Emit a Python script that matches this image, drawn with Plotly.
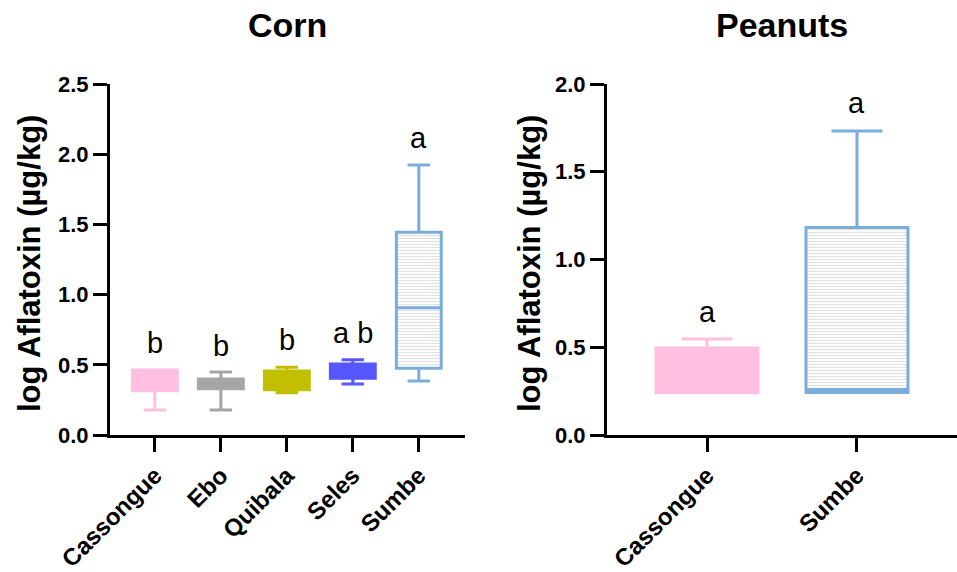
import plotly.graph_objects as go

# ---------------- data ----------------
corn_sites = ["Cassongue", "Ebo", "Quibala", "Seles", "Sumbe"]
corn_low = [0.178, 0.178, 0.301, 0.363, 0.385]
corn_q1 = [0.315, 0.330, 0.323, 0.404, 0.475]
corn_med = [0.390, 0.365, 0.390, 0.455, 0.907]
corn_q3 = [0.463, 0.399, 0.456, 0.506, 1.444]
corn_high = [0.463, 0.449, 0.482, 0.536, 1.923]
corn_colors = ["#ffbfe0", "#a6a6a6", "#c2bf00", "#5656ff", "#7aaddb"]
corn_letters = ["b", "b", "b", "a b", "a"]
corn_letter_y = [0.584, 0.563, 0.605, 0.655, 2.044]

pea_sites = ["Cassongue", "Sumbe"]
pea_low = [0.241, 0.242]
pea_q1 = [0.241, 0.242]
pea_med = [0.370, 0.259]
pea_q3 = [0.496, 1.183]
pea_high = [0.547, 1.732]
pea_colors = ["#ffbfe0", "#7aaddb"]
pea_letters = ["a", "a"]
pea_letter_y = [0.644, 1.835]

hatched = {"Sumbe"}

FONT = "Liberation Sans, Arial, sans-serif"
W, H = 957, 572
BOXW = 0.68

fig = go.Figure()


def add_panel(sites, low, q1, med, q3, high, colors, xa, ya):
    for i, s in enumerate(sites):
        c = colors[i]
        if s in hatched:
            fig.add_trace(go.Bar(
                x=[s], y=[q3[i] - q1[i]], base=[q1[i]], width=BOXW,
                marker=dict(color="white", line=dict(width=0),
                            pattern=dict(shape="-", fgcolor="#c4c4c4", bgcolor="white",
                                         size=3, solidity=0.4)),
                xaxis=xa, yaxis=ya, showlegend=False, hoverinfo="skip"))
            fill = "rgba(0,0,0,0)"
        else:
            fill = c
        fig.add_trace(go.Box(
            x=[s], q1=[q1[i]], median=[med[i]], q3=[q3[i]],
            lowerfence=[low[i]], upperfence=[high[i]],
            width=BOXW, whiskerwidth=0.5, fillcolor=fill,
            line=dict(color=c, width=3), boxpoints=False,
            xaxis=xa, yaxis=ya, showlegend=False))


add_panel(corn_sites, corn_low, corn_q1, corn_med, corn_q3, corn_high, corn_colors, "x", "y")
add_panel(pea_sites, pea_low, pea_q1, pea_med, pea_q3, pea_high, pea_colors, "x2", "y2")

ann = []
for s, t, yv in zip(corn_sites, corn_letters, corn_letter_y):
    ann.append(dict(x=s, y=yv, xref="x", yref="y", text=t, showarrow=False,
                    yanchor="bottom", yshift=-8, font=dict(family=FONT, size=29, color="black")))
for s, t, yv in zip(pea_sites, pea_letters, pea_letter_y):
    ann.append(dict(x=s, y=yv, xref="x2", yref="y2", text=t, showarrow=False,
                    yanchor="bottom", yshift=-8, font=dict(family=FONT, size=29, color="black")))

top, bot = 84, 435
ph = bot - top
def py(pix):
    return (bot - pix) / ph

ann += [
    dict(x=(110 + 465) / 2 / W, y=py(25), xref="paper", yref="paper", text="<b>Corn</b>",
         showarrow=False, xanchor="center", yanchor="middle",
         font=dict(family=FONT, size=34, color="black")),
    dict(x=(607 + 957) / 2 / W, y=py(25), xref="paper", yref="paper", text="<b>Peanuts</b>",
         showarrow=False, xanchor="center", yanchor="middle",
         font=dict(family=FONT, size=34, color="black")),
    dict(x=29 / W, y=py(264), xref="paper", yref="paper", text="<b>log Aflatoxin (µg/kg)</b>",
         showarrow=False, textangle=-90, xanchor="center", yanchor="middle",
         font=dict(family=FONT, size=31, color="black")),
    dict(x=529 / W, y=py(264), xref="paper", yref="paper", text="<b>log Aflatoxin (µg/kg)</b>",
         showarrow=False, textangle=-90, xanchor="center", yanchor="middle",
         font=dict(family=FONT, size=31, color="black")),
]

axis_common = dict(showline=True, linewidth=3, linecolor="black", ticks="outside",
                   ticklen=14, tickwidth=3, tickcolor="black", showgrid=False,
                   zeroline=False, fixedrange=True, automargin=False)
xt = dict(family=FONT, size=24, color="black", weight="bold")
yt = dict(family=FONT, size=22, color="black", weight="bold")

fig.update_layout(
    width=W, height=H, margin=dict(l=0, r=0, t=top, b=H - bot),
    paper_bgcolor="white", plot_bgcolor="white",
    boxmode="overlay", barmode="overlay",
    annotations=ann,
    xaxis=dict(domain=[110 / W, 465 / W], range=[-0.68, 4.7], tickangle=-45,
               tickfont=xt, categoryorder="array", categoryarray=corn_sites, **axis_common),
    yaxis=dict(range=[0, 2.5], dtick=0.5, tickformat=".1f", tickfont=yt, **axis_common),
    xaxis2=dict(domain=[607 / W, 1.0], range=[-0.667, 1.667], tickangle=-45,
                tickfont=xt, anchor="y2", categoryorder="array", categoryarray=pea_sites,
                **axis_common),
    yaxis2=dict(range=[0, 2.0], dtick=0.5, tickformat=".1f", tickfont=yt, anchor="x2",
                **axis_common),
)

fig.write_html("out.html")
